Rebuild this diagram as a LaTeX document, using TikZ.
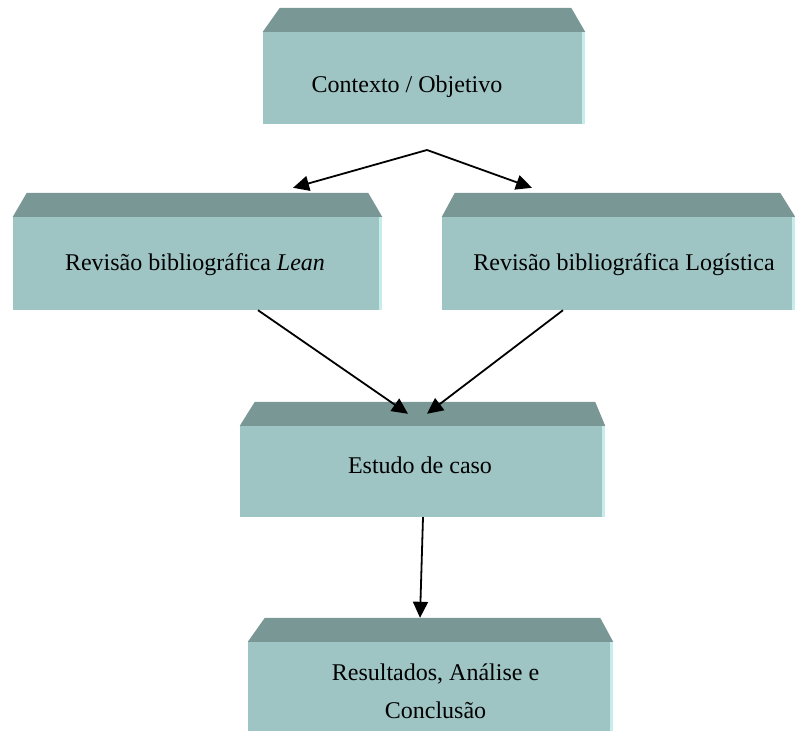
\documentclass[tikz,border=0pt]{standalone}
\usepackage{fontspec}
\setmainfont{Liberation Serif}
\usetikzlibrary{calc,arrows.meta}

\definecolor{facetop}{RGB}{121,151,149}
\definecolor{facefront}{RGB}{158,196,196}
\definecolor{faceedge}{RGB}{198,236,236}

\tikzset{
  front/.style={rectangle, fill=facefront, inner sep=0pt, minimum width=#1},
  lbl/.style={inner sep=0pt, align=center, font=\fontsize{24}{38}\selectfont},
  flow/.style={line width=1.8pt, -{Triangle[length=16pt,width=15pt]}},
}

% top bevel and lit right edge of a box node: #1 name, #2/#3 left/right inset
\newcommand\bevelbox[3]{%
  \fill[facetop] (#1.north west) -- ($(#1.north west)+(#2,-24)$)
    -- ($(#1.north east)+(-#3,-24)$) -- (#1.north east) -- cycle;
  \fill[faceedge] ($(#1.north east)+(-3,0)$) rectangle (#1.south east);
}

\begin{document}
\begin{tikzpicture}[x=1pt,y=-1pt]
  \useasboundingbox (0,0) rectangle (795,731);
  \clip (0,0) rectangle (795,731);

  % front faces
  \node[front=322, minimum height=92] (ctx) at (424,78) {};
  \node[front=369, minimum height=93] (lean) at (197.5,263.5) {};
  \node[front=353, minimum height=93] (log) at (618.5,263.5) {};
  \node[front=365, minimum height=91] (est) at (422.5,471.5) {};
  \node[front=365, minimum height=89] (res) at (430.5,686.5) {};

  \bevelbox{ctx}{17}{14}
  \bevelbox{lean}{14}{14}
  \bevelbox{log}{13}{15}
  \bevelbox{est}{15}{10}
  \bevelbox{res}{17}{13}

  % labels
  \node[lbl] (tctx) at (407,87) {Contexto / Objetivo};
  \node[lbl] (tlean) at (195,265) {Revisão bibliográfica \textit{Lean}};
  \node[lbl] (tlog) at (624,265) {Revisão bibliográfica Logística};
  \node[lbl] (test) at (420,465) {Estudo de caso};
  \node[lbl] (tres) at (435.5,691) {Resultados, Análise e\\Conclusão};

  % connectors
  \coordinate (split) at (427,150);
  \draw[flow] (split) -- ($(lean.north)+(95.5,-29)$);
  \draw[flow] (split) -- ($(log.north)+(-86.5,-29)$);
  \draw[flow] ($(lean.south)+(60.5,0)$) -- ($(est.north)+(-14.5,-12)$);
  \draw[flow] ($(log.south)+(-55.5,0)$) -- ($(est.north)+(4.5,-12)$);
  \draw[flow] ($(est.south)+(0.5,0)$) -- ($(res.north)+(-10.5,-24)$);
\end{tikzpicture}
\end{document}
